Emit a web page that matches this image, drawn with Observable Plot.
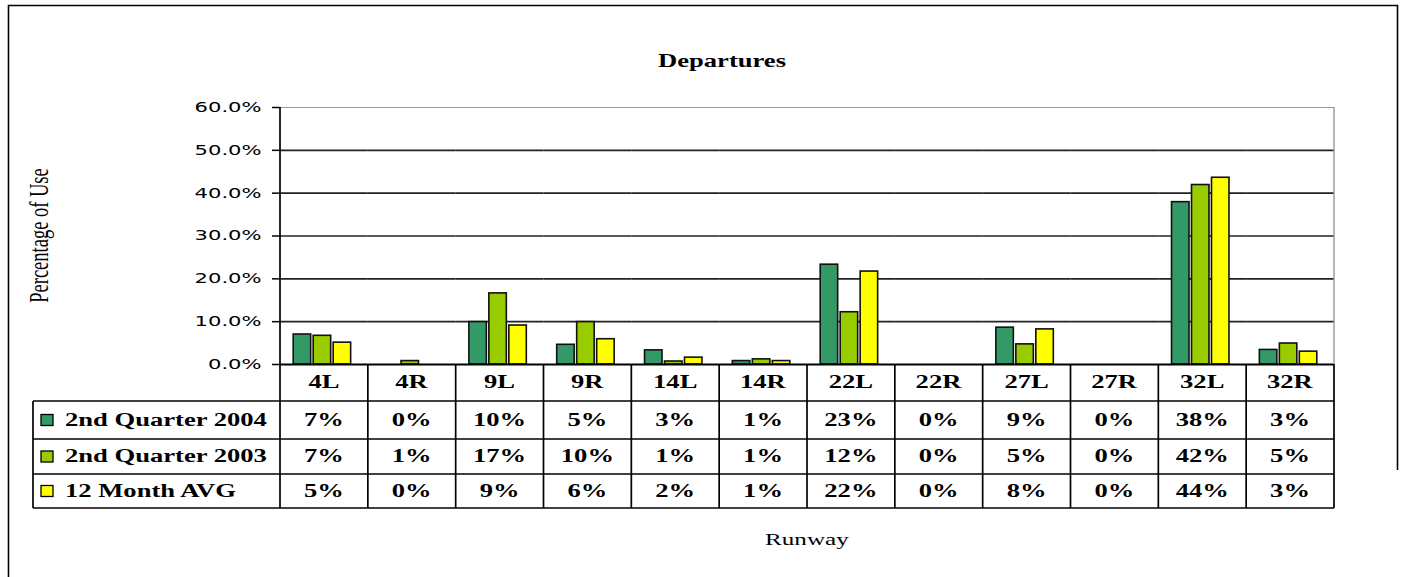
<!DOCTYPE html>
<html>
<head>
<meta charset="utf-8">
<script src="https://cdn.jsdelivr.net/npm/d3@7"></script>
<script src="https://cdn.jsdelivr.net/npm/@observablehq/plot@0.6"></script>
<style>
html, body { margin: 0; padding: 0; background: #fff; overflow: hidden; }
</style>
</head>
<body>
<div id="chart"></div>
<script>
// ---------- data ----------
const runways = ["4L", "4R", "9L", "9R", "14L", "14R", "22L", "22R", "27L", "27R", "32L", "32R"];
const seriesNames = ["2nd Quarter 2004", "2nd Quarter 2003", "12 Month AVG"];
const seriesColors = ["#339966", "#99CC00", "#FFFF00"];
const q2_2004 = [7.0, 0.0, 9.9, 4.6, 3.3, 0.8, 23.3, 0.0, 8.6, 0.0, 37.9, 3.4];
const q2_2003 = [6.7, 0.8, 16.6, 9.9, 0.7, 1.2, 12.2, 0.0, 4.7, 0.0, 41.9, 4.9];
const avg12   = [5.1, 0.0, 9.1, 5.9, 1.6, 0.8, 21.7, 0.0, 8.2, 0.0, 43.6, 3.0];
const yTicks = [0, 10, 20, 30, 40, 50, 60];
const titleText = "Departures";
const yLabel = "Percentage of Use";
const xLabel = "Runway";

const seriesValues = [q2_2004, q2_2003, avg12];
const rows = runways.flatMap((r, i) =>
  seriesNames.map((s, j) => ({runway: r, series: s, value: seriesValues[j][i]})));

// ---------- chart ----------
const W = 1401, H = 577;
const serif = "'Liberation Serif', 'Times New Roman', serif";

const chart = Plot.plot({
  width: W,
  height: H,
  marginLeft: 280,
  marginRight: 67,
  marginTop: 107,
  marginBottom: 213,
  style: {background: "#fff", overflow: "visible"},
  fx: {domain: runways, padding: 0, round: false, axis: null},
  x: {domain: seriesNames, paddingInner: 0.125, paddingOuter: 0.76, round: false, axis: null},
  y: {domain: [0, 60], axis: null},
  color: {domain: seriesNames, range: seriesColors},
  marks: [
    Plot.ruleY(yTicks.filter(d => d > 0 && d < 60), {stroke: "#222", strokeWidth: 1.6}),
    Plot.ruleY([60], {stroke: "#999", strokeWidth: 1.2}),
    Plot.barY(rows, {fx: "runway", x: "series", y: "value", fill: "series", stroke: "#111", strokeWidth: 1.6, dx: -2}),
    Plot.ruleY([0], {stroke: "#000", strokeWidth: 2}),
    Plot.axisY({
      ticks: yTicks,
      tickFormat: d => d.toFixed(1) + "%",
      tickSize: 8,
      tickPadding: 11,
      label: null,
      fontSize: 14,
      fontFamily: "DejaVu Sans",
      fill: "#000",
      stroke: "#000",
      strokeWidth: 1.5,
      facetAnchor: "left"
    })
  ]
});

document.getElementById("chart").append(chart);

// ---------- table, titles, borders ----------
const svg = d3.select(chart);
const fx = chart.scale("fx");
const ys = chart.scale("y");
const bw = fx.bandwidth;
const plotLeft = fx.apply(runways[0]);
const plotRight = fx.apply(runways[runways.length - 1]) + bw;
const yTop = ys.apply(60), yBase = ys.apply(0);
const tableLeft = 33;
const rowEdges = [401, 439, 474, 508];
const tableBottom = rowEdges[rowEdges.length - 1];

const lines = svg.append("g").attr("stroke", "#000").attr("stroke-width", 1.7);
// axis line and right gray plot border
lines.append("line").attr("x1", plotLeft).attr("x2", plotLeft).attr("y1", yTop).attr("y2", tableBottom);
svg.append("line").attr("x1", plotRight).attr("x2", plotRight).attr("y1", yTop).attr("y2", yBase)
  .attr("stroke", "#999").attr("stroke-width", 1.4);
// horizontal table lines
rowEdges.forEach(e => lines.append("line").attr("x1", tableLeft).attr("x2", plotRight).attr("y1", e).attr("y2", e));
// vertical table lines
lines.append("line").attr("x1", tableLeft).attr("x2", tableLeft).attr("y1", rowEdges[0]).attr("y2", tableBottom);
runways.forEach(r => {
  const xr = fx.apply(r) + bw;
  lines.append("line").attr("x1", xr).attr("x2", xr).attr("y1", yBase).attr("y2", tableBottom);
});

const stretchSerif = [];
// header texts
const headerY = (yBase + rowEdges[0]) / 2;
runways.forEach(r => {
  stretchSerif.push(svg.append("text")
    .attr("x", fx.apply(r) + bw / 2).attr("y", headerY)
    .attr("text-anchor", "middle").attr("dominant-baseline", "central")
    .attr("font-family", serif).attr("font-weight", "bold").attr("font-size", 18)
    .text(r).node());
});
// rows
seriesNames.forEach((s, j) => {
  const cy = (rowEdges[j] + rowEdges[j + 1]) / 2;
  svg.append("rect").attr("x", 41).attr("y", cy - 5.5).attr("width", 12).attr("height", 11)
    .attr("fill", seriesColors[j]).attr("stroke", "#000").attr("stroke-width", 1.3);
  stretchSerif.push(svg.append("text")
    .attr("x", 65).attr("y", cy)
    .attr("text-anchor", "start").attr("dominant-baseline", "central")
    .attr("font-family", serif).attr("font-weight", "bold").attr("font-size", 18)
    .text(s).node());
  runways.forEach((r, i) => {
    stretchSerif.push(svg.append("text")
      .attr("x", fx.apply(r) + bw / 2).attr("y", cy)
      .attr("text-anchor", "middle").attr("dominant-baseline", "central")
      .attr("font-family", serif).attr("font-weight", "bold").attr("font-size", 18)
      .text(Math.round(seriesValues[j][i]) + "%").node());
  });
});
// title
stretchSerif.push(svg.append("text")
  .attr("x", 722).attr("y", 61)
  .attr("text-anchor", "middle").attr("dominant-baseline", "central")
  .attr("font-family", serif).attr("font-weight", "bold").attr("font-size", 18)
  .text(titleText).node());
// x title
stretchSerif.push(svg.append("text")
  .attr("x", (plotLeft + plotRight) / 2).attr("y", 539)
  .attr("text-anchor", "middle").attr("dominant-baseline", "central")
  .attr("font-family", serif).attr("font-size", 17)
  .text(xLabel).node());

// outer border (top, left and upper right edge visible in the reference)
const border = svg.append("g").attr("stroke", "#000").attr("stroke-width", 1.6).attr("fill", "none");
border.append("path").attr("d", "M8.5,577 V5.5 H1397.5 V470");

// horizontal stretch helper (reference text is widened horizontally)
function stretch(el, k) {
  const b = el.getBBox();
  const anchor = getComputedStyle(el).textAnchor;
  const ax = anchor === "end" ? b.x + b.width : anchor === "middle" ? b.x + b.width / 2 : b.x;
  const t = el.getAttribute("transform") || "";
  el.setAttribute("transform", `${t} translate(${ax},0) scale(${k},1) translate(${-ax},0)`);
}
const refLabel = stretchSerif.find(n => n.textContent === seriesNames[0]);
const kSerif = 202 / refLabel.getBBox().width;
stretchSerif.forEach(n => stretch(n, kSerif));

// y tick labels
const tickTexts = Array.from(chart.querySelectorAll("text")).filter(n => /%$/.test(n.textContent) && n.textContent.includes("."));
if (tickTexts.length) {
  const ref = tickTexts.find(n => n.textContent === "60.0%") || tickTexts[0];
  const kTick = 67 / ref.getBBox().width;
  tickTexts.forEach(n => stretch(n, kTick));
}

// y axis title (rotated, stretched across its height)
svg.append("text")
  .attr("transform", `translate(39,${(yTop + yBase) / 2}) rotate(-90) scale(1,${kSerif})`)
  .attr("text-anchor", "middle").attr("dominant-baseline", "central")
  .attr("font-family", serif).attr("font-size", 18.5)
  .text(yLabel);
</script>
</body>
</html>
